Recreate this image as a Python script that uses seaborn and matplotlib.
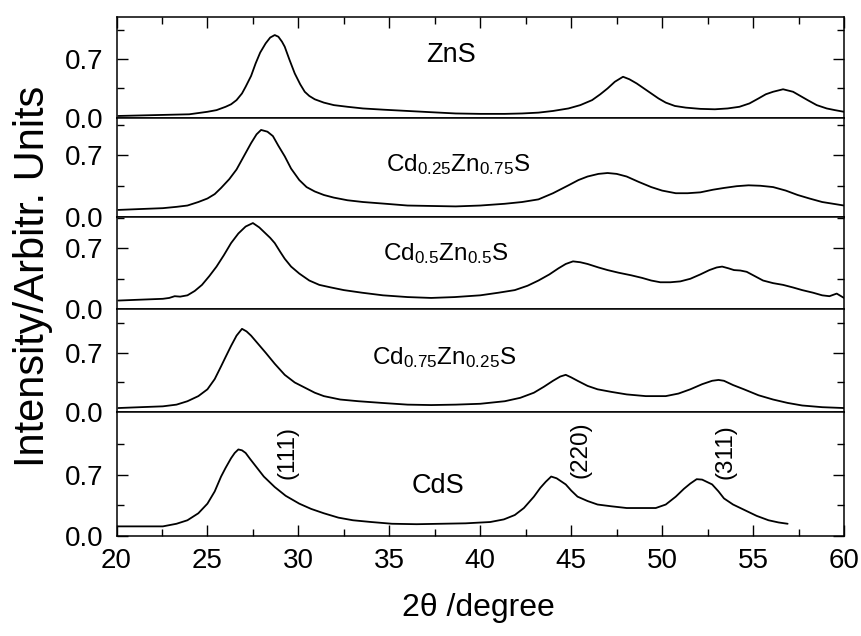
import matplotlib
matplotlib.use("Agg")
import numpy as np
import pandas as pd
import matplotlib.pyplot as plt
import seaborn as sns
from matplotlib.ticker import FixedLocator, MultipleLocator, FormatStrFormatter

# ---------------- data ----------------
zns_x = [20.1, 24.0, 25.0, 25.5, 26.0, 26.3, 26.6, 26.9, 27.1, 27.4, 27.65, 27.9, 28.2, 28.45, 28.7, 28.9,
         29.1, 29.25, 29.5, 29.8, 30.1, 30.35, 30.6, 30.9, 31.4, 31.95, 32.7, 33.55, 34.7, 36.0, 37.3,
         38.65, 40.0, 41.35, 42.3, 43.2, 44.0, 44.85, 45.5, 46.15, 46.6, 47.0, 47.4, 47.85, 48.2, 48.6,
         49.0, 49.4, 49.8, 50.2, 50.7, 51.3, 52.1, 52.9, 53.6, 54.25, 54.8, 55.3, 55.7, 56.1, 56.65,
         57.2, 57.6, 58.0, 58.5, 59.05, 59.5, 60.0]
zns_y = [0.02, 0.04, 0.07, 0.09, 0.13, 0.16, 0.21, 0.29, 0.37, 0.50, 0.65, 0.78, 0.89, 0.96, 0.99, 0.97,
         0.91, 0.85, 0.70, 0.53, 0.40, 0.31, 0.26, 0.22, 0.18, 0.15, 0.13, 0.11, 0.095, 0.08, 0.065,
         0.05, 0.045, 0.045, 0.05, 0.06, 0.08, 0.11, 0.15, 0.21, 0.28, 0.35, 0.43, 0.49, 0.46, 0.41,
         0.35, 0.29, 0.23, 0.18, 0.14, 0.12, 0.105, 0.10, 0.11, 0.13, 0.17, 0.23, 0.28, 0.31, 0.34,
         0.31, 0.26, 0.21, 0.15, 0.11, 0.09, 0.07]

cd25_x = [20.1, 21.3, 22.55, 23.3, 23.9, 24.5, 25.0, 25.4, 25.75, 26.2, 26.6, 27.0, 27.4, 27.7, 27.95,
          28.3, 28.6, 28.9, 29.25, 29.6, 30.05, 30.45, 30.9, 31.4, 31.95, 32.7, 33.55, 34.8, 36.0, 37.3,
          38.65, 40.0, 41.35, 42.3, 43.2, 44.0, 44.85, 45.4, 45.9, 46.5, 47.0, 47.5, 48.05, 48.7, 49.4,
          50.0, 50.75, 51.4, 52.1, 52.8, 53.4, 54.1, 54.75, 55.4, 56.1, 56.8, 57.45, 58.1, 58.8, 59.4, 60.0]
cd25_y = [0.08, 0.09, 0.10, 0.115, 0.13, 0.17, 0.21, 0.26, 0.33, 0.43, 0.54, 0.69, 0.84, 0.94, 0.99,
          0.97, 0.92, 0.81, 0.69, 0.55, 0.42, 0.34, 0.29, 0.25, 0.22, 0.19, 0.17, 0.15, 0.13, 0.125,
          0.12, 0.13, 0.15, 0.17, 0.20, 0.27, 0.36, 0.42, 0.46, 0.49, 0.50, 0.49, 0.46, 0.40, 0.34,
          0.30, 0.27, 0.27, 0.28, 0.31, 0.33, 0.35, 0.36, 0.355, 0.34, 0.30, 0.25, 0.21, 0.17, 0.15, 0.13]

cd50_x = [20.1, 21.3, 22.55, 22.9, 23.2, 23.5, 23.9, 24.3, 24.7, 25.1, 25.5, 25.9, 26.3, 26.7, 27.1,
          27.5, 27.85, 28.2, 28.45, 28.7, 29.0, 29.25, 29.6, 30.05, 30.6, 31.15, 31.8, 32.5, 33.5, 34.65,
          36.0, 37.3, 38.6, 40.0, 41.0, 41.9, 42.6, 43.2, 43.8, 44.3, 44.7, 45.1, 45.5, 45.9, 46.5, 47.0,
          47.6, 48.3, 48.9, 49.4, 49.9, 50.45, 51.0, 51.55, 52.1, 52.6, 53.0, 53.3, 53.65, 53.95, 54.3,
          54.65, 55.1, 55.55, 56.1, 56.65, 57.2, 57.7, 58.3, 58.8, 59.2, 59.6, 60.0]
cd50_y = [0.10, 0.11, 0.12, 0.13, 0.15, 0.145, 0.16, 0.21, 0.28, 0.38, 0.49, 0.62, 0.76, 0.87, 0.95,
          0.99, 0.94, 0.87, 0.82, 0.76, 0.66, 0.58, 0.49, 0.41, 0.33, 0.28, 0.25, 0.22, 0.19, 0.16,
          0.14, 0.13, 0.14, 0.16, 0.19, 0.22, 0.27, 0.33, 0.40, 0.47, 0.52, 0.55, 0.54, 0.52, 0.48, 0.45,
          0.42, 0.39, 0.36, 0.33, 0.31, 0.31, 0.32, 0.35, 0.40, 0.45, 0.48, 0.49, 0.47, 0.45, 0.445,
          0.43, 0.38, 0.33, 0.30, 0.28, 0.25, 0.22, 0.19, 0.16, 0.15, 0.18, 0.13]

cd75_x = [20.1, 21.3, 22.55, 23.3, 23.9, 24.5, 25.0, 25.4, 25.75, 26.0, 26.3, 26.6, 26.9, 27.15, 27.4,
          27.8, 28.2, 28.7, 29.25, 29.8, 30.35, 30.9, 31.4, 32.3, 33.3, 34.6, 36.0, 37.3, 38.65, 40.0,
          41.35, 42.2, 42.95, 43.5, 44.0, 44.4, 44.7, 45.0, 45.35, 45.9, 46.45, 47.2, 48.05, 49.1, 50.2,
          50.9, 51.55, 52.2, 52.75, 53.1, 53.4, 53.9, 54.5, 55.3, 56.1, 56.9, 57.7, 58.8, 60.0]
cd75_y = [0.05, 0.06, 0.07, 0.09, 0.13, 0.19, 0.27, 0.39, 0.54, 0.65, 0.78, 0.90, 0.98, 0.95, 0.90,
          0.80, 0.70, 0.57, 0.44, 0.35, 0.29, 0.23, 0.19, 0.15, 0.13, 0.11, 0.09, 0.085, 0.09, 0.10,
          0.13, 0.17, 0.23, 0.30, 0.37, 0.42, 0.44, 0.41, 0.37, 0.31, 0.27, 0.24, 0.21, 0.19, 0.19,
          0.22, 0.27, 0.33, 0.37, 0.38, 0.37, 0.32, 0.27, 0.20, 0.15, 0.11, 0.08, 0.06, 0.05]

cds_x = [20.1, 21.3, 22.55, 23.3, 23.9, 24.5, 25.0, 25.4, 25.75, 26.0, 26.3, 26.5, 26.7, 26.9, 27.1,
         27.35, 27.65, 28.1, 28.7, 29.3, 30.05, 30.7, 31.4, 32.2, 33.0, 34.0, 35.15, 36.5, 37.85, 39.2,
         40.55, 41.3, 41.9, 42.4, 42.95, 43.3, 43.6, 43.9, 44.2, 44.7, 45.0, 45.35, 45.9, 46.45, 47.2,
         48.05, 48.8, 49.65, 50.2, 50.75, 51.2, 51.55, 51.9, 52.2, 52.75, 53.1, 53.4, 53.9, 54.5, 55.2,
         55.85, 56.4, 56.9]
cds_y = [0.11, 0.11, 0.11, 0.14, 0.18, 0.26, 0.37, 0.51, 0.68, 0.78, 0.89, 0.95, 0.99, 0.98, 0.95,
         0.88, 0.80, 0.68, 0.56, 0.46, 0.37, 0.31, 0.26, 0.21, 0.18, 0.16, 0.14, 0.135, 0.14, 0.145,
         0.16, 0.19, 0.24, 0.32, 0.45, 0.55, 0.62, 0.68, 0.66, 0.59, 0.52, 0.45, 0.40, 0.36, 0.34,
         0.32, 0.32, 0.32, 0.36, 0.45, 0.54, 0.60, 0.65, 0.645, 0.59, 0.51, 0.43, 0.36, 0.30, 0.23,
         0.18, 0.155, 0.14]

samples = ["ZnS", "Cd0.25Zn0.75S", "Cd0.5Zn0.5S", "Cd0.75Zn0.25S", "CdS"]
sample_labels = ["ZnS",
                 r"Cd$_{\mathrm{0.25}}$Zn$_{\mathrm{0.75}}$S",
                 r"Cd$_{\mathrm{0.5}}$Zn$_{\mathrm{0.5}}$S",
                 r"Cd$_{\mathrm{0.75}}$Zn$_{\mathrm{0.25}}$S",
                 "CdS"]
label_pos_x = [38.4, 38.8, 38.1, 38.0, 37.7]
label_pos_y = [0.75, 0.60, 0.64, 0.64, 0.57]
label_sizes = [19.5, 17.5, 17.5, 17.5, 19.5]
y_tops = [1.21, 1.13, 1.06, 1.21, 1.415]
peak_names = ["(111)", "(220)", "(311)"]
peak_x = [29.4, 45.5, 53.5]
peak_y = [0.95, 0.99, 0.97]
x_ticks = [20, 25, 30, 35, 40, 45, 50, 55, 60]

frames = []
for name, xs, ys in zip(samples, [zns_x, cd25_x, cd50_x, cd75_x, cds_x],
                        [zns_y, cd25_y, cd50_y, cd75_y, cds_y]):
    frames.append(pd.DataFrame({"two_theta": xs, "intensity": ys, "sample": name}))
df = pd.concat(frames, ignore_index=True)

# ---------------- styling ----------------
sns.set_theme(style="ticks")
plt.rcParams["font.family"] = ["Liberation Sans", "DejaVu Sans"]
plt.rcParams["mathtext.fontset"] = "custom"
plt.rcParams["mathtext.rm"] = "Liberation Sans"
plt.rcParams["mathtext.it"] = "Liberation Sans:italic"
plt.rcParams["mathtext.bf"] = "Liberation Sans:bold"

fig = plt.figure(figsize=(8.62, 6.36), dpi=100)
gs = fig.add_gridspec(5, 1, height_ratios=[100.6, 99, 92, 102.7, 123.3], hspace=0,
                      left=116.5 / 862, right=844 / 862, top=1 - 16.7 / 636, bottom=1 - 536 / 636)

axes = []
for i, name in enumerate(samples):
    ax = fig.add_subplot(gs[i])
    axes.append(ax)
    sub = df[df["sample"] == name]
    sns.lineplot(data=sub, x="two_theta", y="intensity", ax=ax, color="black",
                 linewidth=1.3, estimator=None, sort=False, legend=False)
    ax.set_xlim(20, 60)
    ax.set_ylim(0, y_tops[i])
    ax.yaxis.set_major_locator(FixedLocator([0.0, 0.7]))
    ax.yaxis.set_minor_locator(FixedLocator([0.35, 1.05]))
    ax.yaxis.set_major_formatter(FormatStrFormatter("%.1f"))
    ax.set_xlabel("")
    ax.set_ylabel("")
    for sp in ax.spines.values():
        sp.set_linewidth(1.1)
        sp.set_color("black")
    ax.tick_params(axis="y", which="both", direction="in", left=True, right=True,
                   labelsize=20, pad=9.5, colors="black", width=1.0)
    ax.tick_params(axis="y", which="major", length=8)
    ax.tick_params(axis="y", which="minor", length=5)
    ax.xaxis.set_major_locator(FixedLocator(x_ticks))
    ax.xaxis.set_minor_locator(MultipleLocator(2.5))
    ax.tick_params(axis="x", which="both", direction="in", width=1.0, colors="black",
                   labelsize=20, pad=9,
                   top=(i == 0), bottom=(i == 4), labelbottom=(i == 4), labeltop=False)
    ax.tick_params(axis="x", which="major", length=8)
    ax.tick_params(axis="x", which="minor", length=5)
    ax.text(label_pos_x[i], label_pos_y[i], sample_labels[i], fontsize=label_sizes[i],
            ha="center", va="center", color="black")

for name, px, py in zip(peak_names, peak_x, peak_y):
    axes[4].text(px, py, name, rotation=90, fontsize=17.5, ha="center", va="center", color="black")

fig.text(0.038, 0.565, "Intensity/Arbitr. Units", rotation=90, fontsize=30,
         ha="center", va="center", color="black")
fig.text(478 / 862, 1 - 608 / 636, "2\u03b8 /degree", fontsize=23,
         ha="center", va="center", color="black")

fig.savefig("out.png", dpi=100, facecolor="white")
